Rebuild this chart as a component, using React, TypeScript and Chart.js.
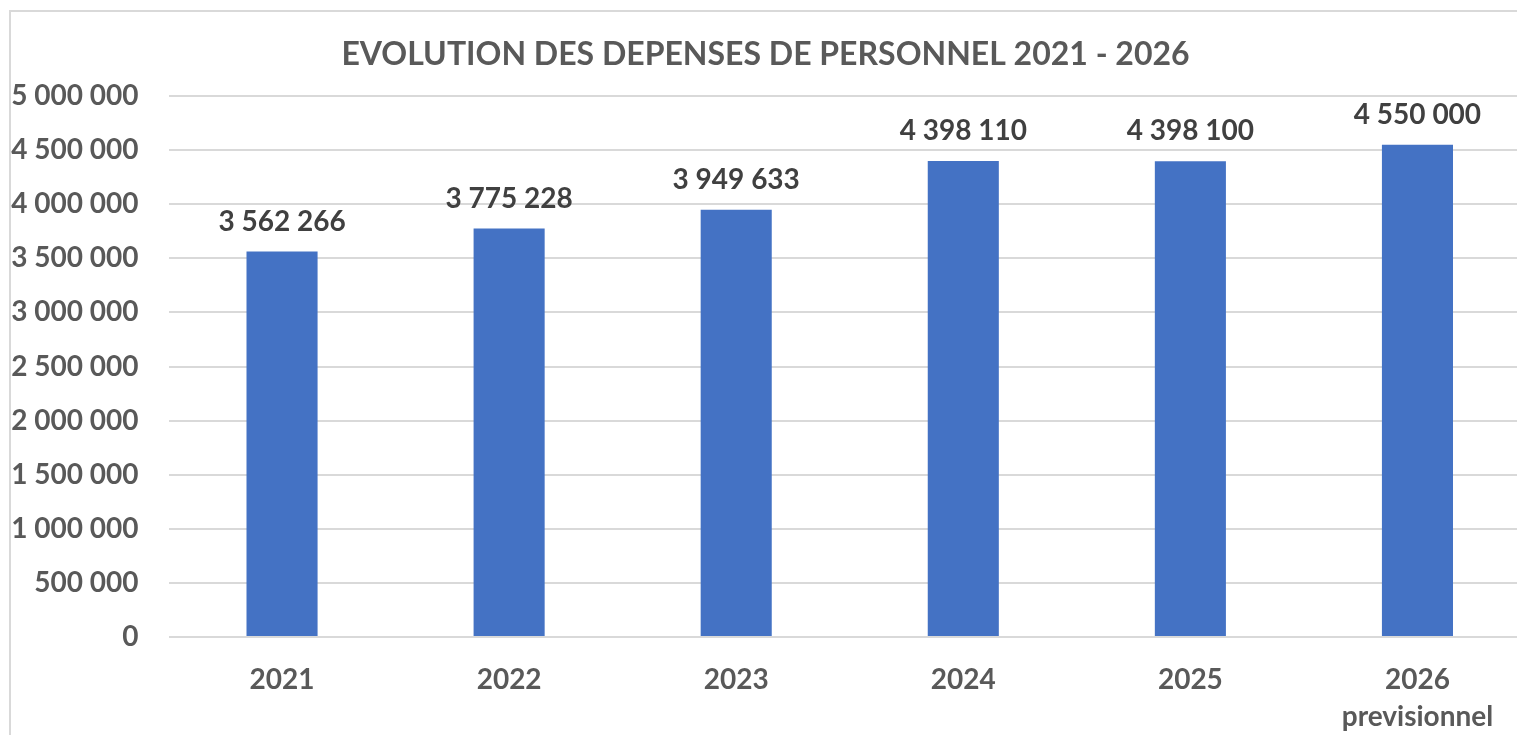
import React, { useEffect, useRef } from "react";
import { Chart, registerables } from "chart.js";

Chart.register(...registerables);

const TITLE = "EVOLUTION DES DEPENSES DE PERSONNEL 2021 - 2026";
const categories: (string | string[])[] = ["2021", "2022", "2023", "2024", "2025", ["2026", "previsionnel"]];
const values: number[] = [3562266, 3775228, 3949633, 4398110, 4398100, 4550000];
const Y_MIN = 0;
const Y_MAX = 5000000;
const Y_STEP = 500000;

const FONT = "Lato, 'Open Sans', sans-serif";
const fmt = (v: number) => Math.round(v).toString().replace(/\B(?=(\d{3})+(?!\d))/g, " ");

const valueLabels = {
  id: "valueLabels",
  afterDatasetsDraw(chart: any) {
    const ctx = chart.ctx;
    const meta = chart.getDatasetMeta(0);
    ctx.save();
    ctx.font = `bold 28px ${FONT}`;
    ctx.fillStyle = "#404040";
    ctx.textAlign = "center";
    ctx.textBaseline = "middle";
    meta.data.forEach((bar: any, i: number) => {
      ctx.fillText(fmt(values[i]), bar.x, bar.y - 30);
    });
    ctx.restore();
  },
};

export default function App() {
  const ref = useRef<HTMLCanvasElement>(null);
  useEffect(() => {
    if (!ref.current) return;
    const chart = new Chart(ref.current, {
      type: "bar",
      data: {
        labels: categories,
        datasets: [
          {
            data: values,
            backgroundColor: "#4472C4",
            barPercentage: 0.313,
            categoryPercentage: 1,
          },
        ],
      },
      options: {
        animation: false,
        responsive: false,
        maintainAspectRatio: false,
        layout: { padding: { left: 0, right: 9, top: 0, bottom: 0 } },
        plugins: {
          legend: { display: false },
          tooltip: { enabled: false },
          title: {
            display: true,
            text: TITLE,
            color: "#595959",
            font: { family: FONT, size: 32, weight: "bold", lineHeight: 1.2 },
            padding: { top: 35, bottom: 22.6 },
          },
        },
        scales: {
          x: {
            grid: { display: false, drawTicks: false },
            border: { display: false },
            ticks: {
              color: "#595959",
              font: { family: FONT, size: 28, weight: "bold", lineHeight: 1.3 },
              padding: 25,
              maxRotation: 0,
              autoSkip: false,
            },
            afterFit: (s: any) => {
              s.height = 98;
            },
          },
          y: {
            min: Y_MIN,
            max: Y_MAX,
            grid: { color: "#d9d9d9", lineWidth: 2, drawTicks: false },
            border: { display: false },
            ticks: {
              stepSize: Y_STEP,
              color: "#595959",
              font: { family: FONT, size: 28, weight: "bold" },
              padding: 30,
              callback: (v: any) => fmt(Number(v)),
            },
            afterFit: (s: any) => {
              s.width = 168.5;
            },
          },
        },
      },
      plugins: [valueLabels],
    });
    return () => chart.destroy();
  }, []);

  return (
    <div style={{ position: "fixed", left: 0, top: 0, width: 1517, height: 735, overflow: "hidden", background: "#fff" }}>
      <div
        style={{
          position: "absolute",
          left: 9,
          top: 10,
          width: 1600,
          height: 800,
          border: "2px solid #d9d9d9",
          boxSizing: "border-box",
        }}
      />
      <canvas ref={ref} width={1540} height={735} style={{ position: "absolute", left: 0, top: 0, width: 1540, height: 735 }} />
    </div>
  );
}
